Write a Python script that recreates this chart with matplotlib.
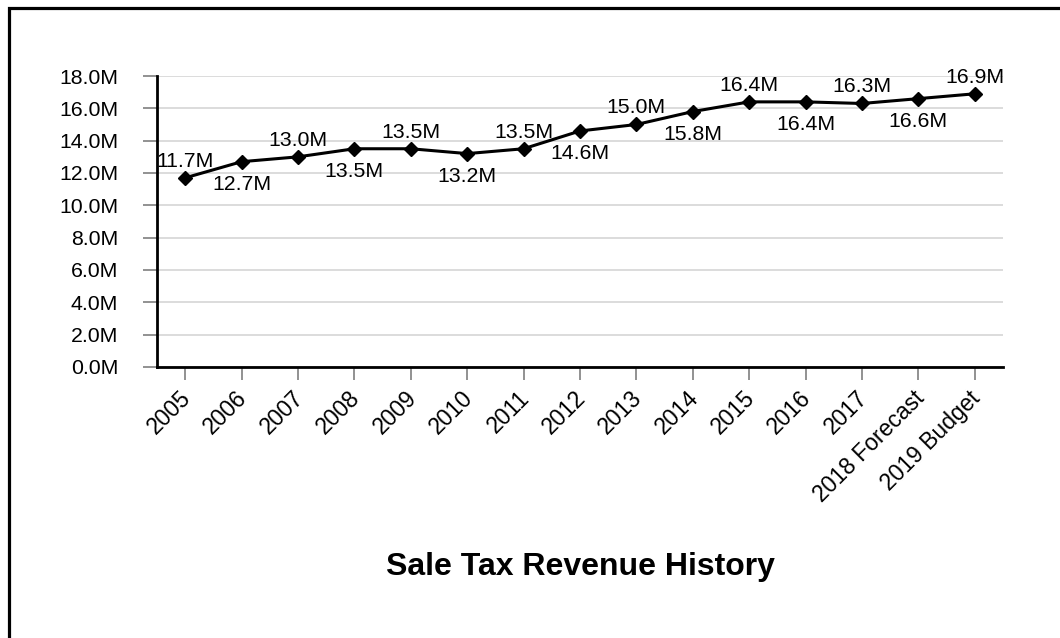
import matplotlib
matplotlib.use('Agg')
import matplotlib.pyplot as plt
from matplotlib.patches import Rectangle
from matplotlib.transforms import ScaledTranslation

plt.rcParams['font.family'] = ['Liberation Sans', 'DejaVu Sans']

years = ['2005', '2006', '2007', '2008', '2009', '2010', '2011', '2012',
         '2013', '2014', '2015', '2016', '2017', '2018 Forecast', '2019 Budget']
revenue = [11.7, 12.7, 13.0, 13.5, 13.5, 13.2, 13.5, 14.6,
           15.0, 15.8, 16.4, 16.4, 16.3, 16.6, 16.9]  # millions
yticks = [0, 2, 4, 6, 8, 10, 12, 14, 16, 18]

fig = plt.figure(figsize=(10.6, 6.38), dpi=100)
ax = fig.add_axes([157 / 1060, 1 - 367 / 638, (1003 - 157) / 1060, (367 - 76) / 638])

x = list(range(len(years)))
ax.plot(x, revenue, color='black', lw=2.2, marker='D', markersize=7, zorder=3)

# labels alternate above / below the points
for i, v in enumerate(revenue):
    dy = 8 if i % 2 == 0 else -20.5
    ax.annotate(f"{v:.1f}M", (i, v), textcoords="offset points", xytext=(0, dy),
                ha='center', va='baseline', fontsize=15.3)

ax.set_xlim(-0.5, len(years) - 0.5)
ax.set_ylim(0, 18)
ax.set_yticks(yticks)
ax.set_yticklabels([f"{t:.1f}M" for t in yticks], fontsize=15.3)
ax.set_xticks(x)
ax.set_xticklabels([])

# category labels: rotated, nudged a bit left of the tick
lab_tr = ax.get_xaxis_transform() + ScaledTranslation(-0.06, -0.195, fig.dpi_scale_trans)
for i, name in enumerate(years):
    ax.text(i, 0, name, transform=lab_tr, fontsize=16.5, rotation=45,
            ha='right', va='top', rotation_mode='anchor', clip_on=False)

ax.grid(axis='y', color='#d9d9d9', lw=1.3)
ax.set_axisbelow(True)
for s in ['top', 'right']:
    ax.spines[s].set_visible(False)
for s in ['left', 'bottom']:
    ax.spines[s].set_linewidth(2)
    ax.spines[s].set_color('black')
ax.tick_params(axis='y', length=10, width=1.2, color='#7f7f7f', pad=18)
ax.tick_params(axis='x', length=9, width=1.2, color='#7f7f7f')

fig.text(580 / 1060, 1 - 567 / 638, "Sale Tax Revenue History", ha='center', va='center',
         fontsize=23, fontweight='bold')

# outer frame, runs off the right and bottom edges
fig.patches.append(Rectangle((8.5 / 1060, -0.1), 1.2, 1.1 - 8.5 / 638, transform=fig.transFigure,
                             fill=False, lw=2.3, edgecolor='black', clip_on=False))

fig.savefig('out.png', dpi=100)
